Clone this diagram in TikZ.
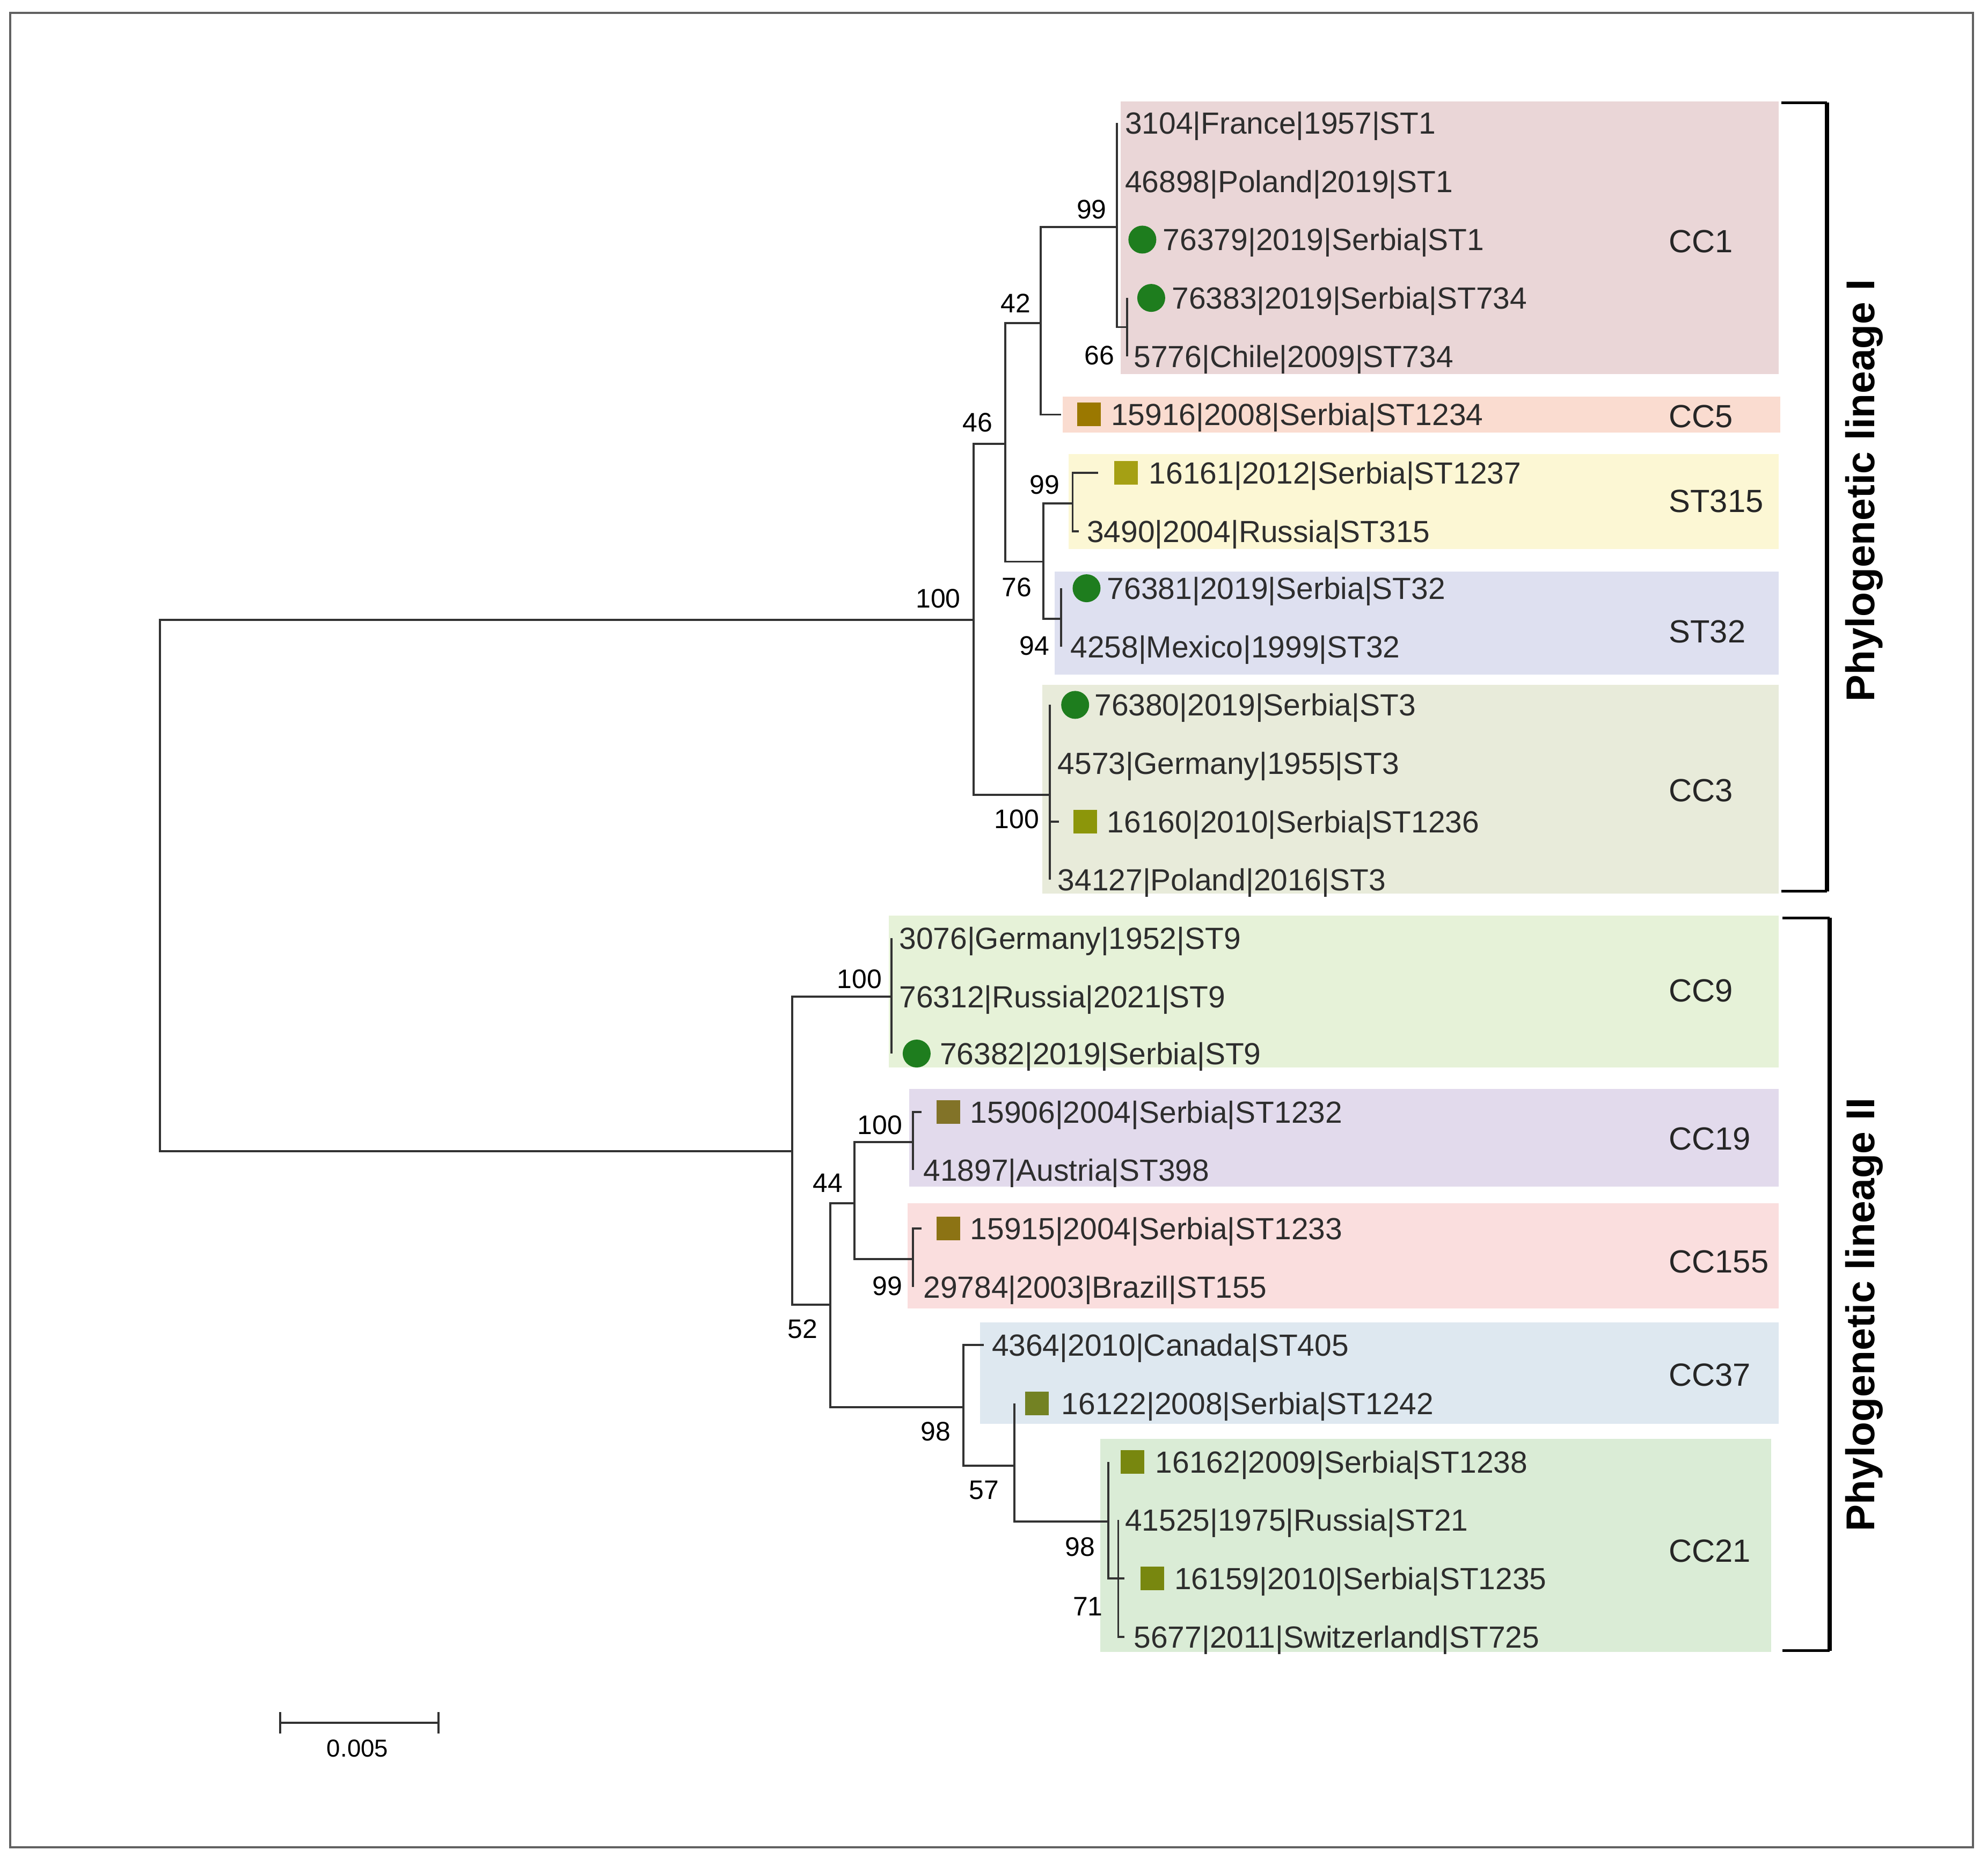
\documentclass[tikz,border=0pt]{standalone}
\usepackage{fontspec}
\setmainfont{Liberation Sans}
\definecolor{branchgray}{RGB}{50,50,50}
\definecolor{textgray}{RGB}{45,45,45}
\definecolor{dotgreen}{RGB}{30,125,30}
\definecolor{sqa}{RGB}{155,120,0}
\definecolor{sqb}{RGB}{165,160,20}
\definecolor{sqc}{RGB}{140,150,10}
\definecolor{sqd}{RGB}{130,115,40}
\definecolor{sqe}{RGB}{140,115,20}
\definecolor{sqf}{RGB}{115,130,35}
\definecolor{sqg}{RGB}{120,135,15}
\definecolor{bgcca}{RGB}{234,214,215}
\definecolor{bgccb}{RGB}{250,220,208}
\definecolor{bgst315}{RGB}{252,247,212}
\definecolor{bgst32}{RGB}{222,224,240}
\definecolor{bgccc}{RGB}{232,235,218}
\definecolor{bgccd}{RGB}{230,242,216}
\definecolor{bgcce}{RGB}{226,218,236}
\definecolor{bgccf}{RGB}{250,222,222}
\definecolor{bgccg}{RGB}{222,232,240}
\definecolor{bgcch}{RGB}{218,236,214}
\begin{document}
\begin{tikzpicture}[x=0.023622cm,y=-0.023622cm]
		\tikzstyle{branch}=[line width=1.1pt,draw=branchgray]
		\tikzstyle{leaf}=[anchor=west,inner sep=0pt,text=textgray,text height=11.6pt,text depth=0pt,font=\fontsize{16.2pt}{18pt}\selectfont]
		\tikzstyle{boot}=[inner sep=0pt,text=black,text height=10.2pt,text depth=0pt,font=\fontsize{14.2pt}{16pt}\selectfont]
		\tikzstyle{clade}=[anchor=west,inner sep=0pt,text=black!85,text height=12.2pt,text depth=0pt,font=\fontsize{17pt}{19pt}\selectfont]
		\tikzstyle{lineage}=[inner sep=0pt,rotate=90,text height=15.3pt,text depth=0pt,font=\fontsize{21.3pt}{24pt}\selectfont\bfseries]
		\tikzstyle{dot}=[circle,fill=dotgreen,minimum size=0.52cm,inner sep=0pt]
		\tikzstyle{sq}=[rectangle,minimum size=0.44cm,inner sep=0pt]
		\useasboundingbox (0,0) rectangle (1568,1471);
		\fill[white] (0,0) rectangle (1568,1471);
		\draw[line width=1.1pt,draw=black!62] (8,10) rectangle (1556,1457);
		\fill[bgcca] (884,80) rectangle (1403,295);
		\fill[bgccb] (838,313) rectangle (1404,341);
		\fill[bgst315] (843,358) rectangle (1403,433);
		\fill[bgst32] (832,451) rectangle (1403,532);
		\fill[bgccc] (822,540) rectangle (1403,705);
		\fill[bgccd] (701,722) rectangle (1403,842);
		\fill[bgcce] (717,859) rectangle (1403,936);
		\fill[bgccf] (716,949) rectangle (1403,1032);
		\fill[bgccg] (773,1043) rectangle (1403,1123);
		\fill[bgcch] (868,1135) rectangle (1397,1303);
		\coordinate (root) at (126,698);
		\coordinate (L_1) at (768,489);
		\coordinate (L_2) at (625,908);
		\coordinate (n_46) at (793,350);
		\coordinate (n_42) at (821,255);
		\coordinate (n_76) at (823,443);
		\coordinate (n_1) at (881,179);
		\coordinate (n_66) at (889,258);
		\coordinate (n_315) at (846,397);
		\coordinate (n_32) at (837,488);
		\coordinate (n_3) at (828,627);
		\coordinate (n_9) at (703,786);
		\coordinate (n_52) at (655,1029);
		\coordinate (n_44) at (674,949);
		\coordinate (n_19) at (720,901);
		\coordinate (n_155) at (720,993);
		\coordinate (n_98) at (760,1110);
		\coordinate (n_57) at (800,1156);
		\coordinate (n_21) at (874,1200);
		\coordinate (n_71) at (882,1245);
		\coordinate (t_1) at (881,97);
		\coordinate (t_2) at (881,143);
		\coordinate (t_3) at (881,189);
		\coordinate (t_4) at (889,235);
		\coordinate (t_5) at (889,281);
		\coordinate (t_6) at (837,327);
		\coordinate (t_7) at (866,373);
		\coordinate (t_8) at (851,419);
		\coordinate (t_9) at (837,464);
		\coordinate (t_10) at (837,510);
		\coordinate (t_11) at (828,556);
		\coordinate (t_12) at (828,602);
		\coordinate (t_13) at (835,648);
		\coordinate (t_14) at (828,694);
		\coordinate (t_15) at (703,740);
		\coordinate (t_16) at (703,786);
		\coordinate (t_17) at (703,831);
		\coordinate (t_18) at (727,877);
		\coordinate (t_19) at (720,923);
		\coordinate (t_20) at (727,969);
		\coordinate (t_21) at (720,1015);
		\coordinate (t_22) at (776,1061);
		\coordinate (t_23) at (800,1107);
		\coordinate (t_24) at (874,1153);
		\coordinate (t_25) at (882,1199);
		\coordinate (t_26) at (887,1245);
		\coordinate (t_27) at (887,1291);
		\draw[branch] (root) |- (L_1) (root) |- (L_2);
		\draw[branch] (L_1) |- (n_46) (L_1) |- (n_3);
		\draw[branch] (n_46) |- (n_42) (n_46) |- (n_76);
		\draw[branch] (n_42) |- (n_1) (n_42) |- (t_6);
		\draw[branch] (n_1) |- (t_1) (n_1) |- (t_2) (n_1) |- (t_3) (n_1) |- (n_66);
		\draw[branch] (n_66) |- (t_4) (n_66) |- (t_5);
		\draw[branch] (n_76) |- (n_315) (n_76) |- (n_32);
		\draw[branch] (n_315) |- (t_7) (n_315) |- (t_8);
		\draw[branch] (n_32) |- (t_9) (n_32) |- (t_10);
		\draw[branch] (n_3) |- (t_11) (n_3) |- (t_12) (n_3) |- (t_13) (n_3) |- (t_14);
		\draw[branch] (L_2) |- (n_9) (L_2) |- (n_52);
		\draw[branch] (n_9) |- (t_15) (n_9) |- (t_16) (n_9) |- (t_17);
		\draw[branch] (n_52) |- (n_44) (n_52) |- (n_98);
		\draw[branch] (n_44) |- (n_19) (n_44) |- (n_155);
		\draw[branch] (n_19) |- (t_18) (n_19) |- (t_19);
		\draw[branch] (n_155) |- (t_20) (n_155) |- (t_21);
		\draw[branch] (n_98) |- (t_22) (n_98) |- (n_57);
		\draw[branch] (n_57) |- (t_23) (n_57) |- (n_21);
		\draw[branch] (n_21) |- (t_24) (n_21) |- (n_71);
		\draw[branch] (n_71) |- (t_25) (n_71) |- (t_26) (n_71) |- (t_27);
		\node[leaf] (l_1) at (887,97) {3104|France|1957|ST1};
		\node[leaf] (l_2) at (887,143) {46898|Poland|2019|ST1};
		\node[dot] (m_3) at (901,189) {};
		\node[leaf] (l_3) at (917,189) {76379|2019|Serbia|ST1};
		\node[dot] (m_4) at (908,235) {};
		\node[leaf] (l_4) at (924,235) {76383|2019|Serbia|ST734};
		\node[leaf] (l_5) at (894,281) {5776|Chile|2009|ST734};
		\node[sq,fill=sqa] (m_6) at (859,327) {};
		\node[leaf] (l_6) at (876,327) {15916|2008|Serbia|ST1234};
		\node[sq,fill=sqb] (m_7) at (888,373) {};
		\node[leaf] (l_7) at (906,373) {16161|2012|Serbia|ST1237};
		\node[leaf] (l_8) at (857,419) {3490|2004|Russia|ST315};
		\node[dot] (m_9) at (857,464) {};
		\node[leaf] (l_9) at (873,464) {76381|2019|Serbia|ST32};
		\node[leaf] (l_10) at (844,510) {4258|Mexico|1999|ST32};
		\node[dot] (m_11) at (848,556) {};
		\node[leaf] (l_11) at (863,556) {76380|2019|Serbia|ST3};
		\node[leaf] (l_12) at (834,602) {4573|Germany|1955|ST3};
		\node[sq,fill=sqc] (m_13) at (856,648) {};
		\node[leaf] (l_13) at (873,648) {16160|2010|Serbia|ST1236};
		\node[leaf] (l_14) at (834,694) {34127|Poland|2016|ST3};
		\node[leaf] (l_15) at (709,740) {3076|Germany|1952|ST9};
		\node[leaf] (l_16) at (709,786) {76312|Russia|2021|ST9};
		\node[dot] (m_17) at (723,831) {};
		\node[leaf] (l_17) at (741,831) {76382|2019|Serbia|ST9};
		\node[sq,fill=sqd] (m_18) at (748,877) {};
		\node[leaf] (l_18) at (765,877) {15906|2004|Serbia|ST1232};
		\node[leaf] (l_19) at (728,923) {41897|Austria|ST398};
		\node[sq,fill=sqe] (m_20) at (748,969) {};
		\node[leaf] (l_20) at (765,969) {15915|2004|Serbia|ST1233};
		\node[leaf] (l_21) at (728,1015) {29784|2003|Brazil|ST155};
		\node[leaf] (l_22) at (782,1061) {4364|2010|Canada|ST405};
		\node[sq,fill=sqf] (m_23) at (818,1107) {};
		\node[leaf] (l_23) at (837,1107) {16122|2008|Serbia|ST1242};
		\node[sq,fill=sqg] (m_24) at (893,1153) {};
		\node[leaf] (l_24) at (911,1153) {16162|2009|Serbia|ST1238};
		\node[leaf] (l_25) at (887,1199) {41525|1975|Russia|ST21};
		\node[sq,fill=sqg] (m_26) at (909,1245) {};
		\node[leaf] (l_26) at (926,1245) {16159|2010|Serbia|ST1235};
		\node[leaf] (l_27) at (894,1291) {5677|2011|Switzerland|ST725};
		\node[boot] (b_1) at (861,165) {99};
		\node[boot] (b_2) at (801,239) {42};
		\node[boot] (b_3) at (771,333) {46};
		\node[boot] (b_4) at (867,280) {66};
		\node[boot] (b_5) at (824,382) {99};
		\node[boot] (b_6) at (802,463) {76};
		\node[boot] (b_7) at (816,509) {94};
		\node[boot] (b_8) at (740,472) {100};
		\node[boot] (b_9) at (802,646) {100};
		\node[boot] (b_10) at (678,772) {100};
		\node[boot] (b_11) at (694,887) {100};
		\node[boot] (b_12) at (653,933) {44};
		\node[boot] (b_13) at (700,1014) {99};
		\node[boot] (b_14) at (633,1048) {52};
		\node[boot] (b_15) at (738,1129) {98};
		\node[boot] (b_16) at (776,1175) {57};
		\node[boot] (b_17) at (852,1220) {98};
		\node[boot] (b_18) at (858,1267) {71};
		\node[clade] (c_1) at (1316,190) {CC1};
		\node[clade] (c_5) at (1316,328) {CC5};
		\node[clade] (c_315) at (1316,395) {ST315};
		\node[clade] (c_32) at (1316,498) {ST32};
		\node[clade] (c_3) at (1316,623) {CC3};
		\node[clade] (c_9) at (1316,781) {CC9};
		\node[clade] (c_19) at (1316,898) {CC19};
		\node[clade] (c_155) at (1316,995) {CC155};
		\node[clade] (c_37) at (1316,1084) {CC37};
		\node[clade] (c_21) at (1316,1223) {CC21};
		\draw[line width=1.4pt] (1405,81) -- (1441,81) (1405,703) -- (1441,703);
		\draw[line width=2.4pt] (1441,81) -- (1441,703);
		\draw[line width=1.4pt] (1406,724) -- (1443,724) (1406,1302) -- (1443,1302);
		\draw[line width=2.4pt] (1443,724) -- (1443,1302);
		\node[lineage] (lin_1) at (1467,387) {Phylogenetic lineage I};
		\node[lineage] (lin_2) at (1467,1037) {Phylogenetic lineage II};
		\coordinate (sb_l) at (221,1359);
		\coordinate (sb_r) at (346,1359);
		\draw[branch] (sb_l) -- (sb_r) ([yshift=0.2cm]sb_l) -- ([yshift=-0.2cm]sb_l) ([yshift=0.2cm]sb_r) -- ([yshift=-0.2cm]sb_r);
		\node[inner sep=0pt,font=\fontsize{13pt}{15pt}\selectfont] (sb_t) at (282,1379) {0.005};
	\end{tikzpicture}
\end{document}
